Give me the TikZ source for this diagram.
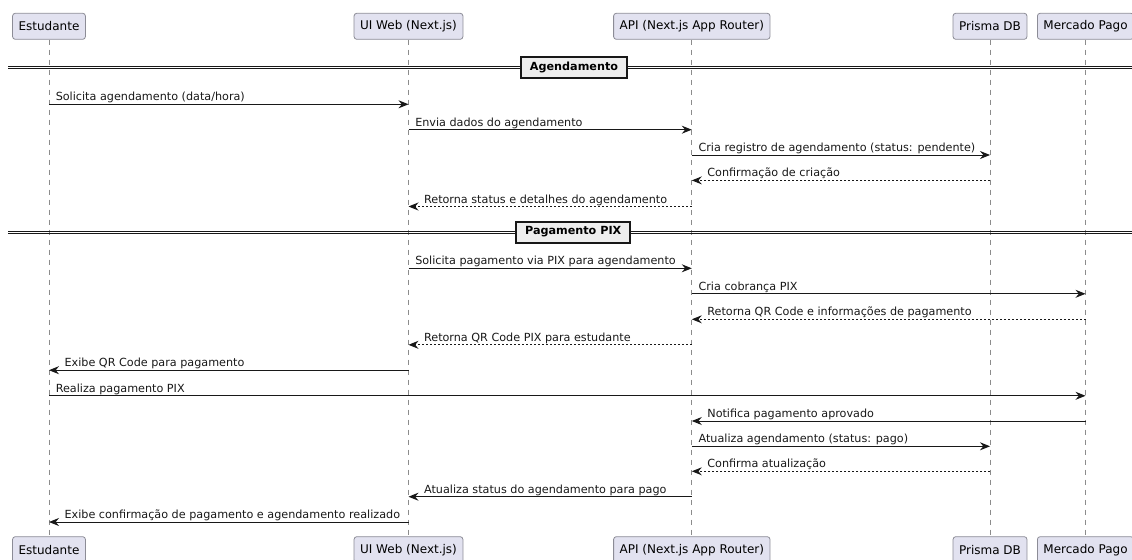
\documentclass[tikz,border=0pt]{standalone}
\usepackage{fontspec}
\setmainfont{DejaVu Sans}
\usetikzlibrary{arrows.meta}
\definecolor{partfill}{RGB}{226,226,240}
\definecolor{partdraw}{RGB}{140,140,150}
\definecolor{ink}{RGB}{24,24,24}
\definecolor{lifegray}{RGB}{140,140,140}
\definecolor{sepfill}{RGB}{238,238,238}
\begin{document}
\begin{tikzpicture}[x=0.75pt,y=-0.75pt,
 part/.style={draw=partdraw, fill=partfill, line width=0.6pt, rounded corners=2pt, font=\fontsize{9}{10}\selectfont, minimum height=19.5pt, inner xsep=4.5pt, inner ysep=0pt},
 life/.style={draw=lifegray, line width=0.5pt, dash pattern=on 3.75pt off 3.75pt},
 msg/.style={draw=ink, line width=0.75pt, -{Stealth[length=7.5pt,width=6pt,inset=2.5pt]}},
 ret/.style={msg, dash pattern=on 1.5pt off 1.5pt},
 lbl/.style={font=\fontsize{8.4}{10}\selectfont, inner sep=0pt, anchor=base west, text=ink, yshift=2.6pt},
 lblr/.style={lbl, pos=0, xshift=4.7pt},
 lbll/.style={lbl, pos=1, xshift=11.3pt},
 sepbox/.style={draw=ink, fill=sepfill, line width=1.4pt, font=\bfseries\fontsize{8.4}{10}\selectfont, minimum height=15.75pt, inner xsep=6.5pt, inner ysep=0pt},
 sepline/.style={draw=ink, line width=0.75pt}
]
\useasboundingbox (0,0) rectangle (1132,560);
\clip (0,0) rectangle (1132,560);

% participants
\node[part] (eT) at (49,26.3) {Estudante};
\node[part] (uT) at (408.5,26.3) {UI Web (Next.js)};
\node[part] (aT) at (691.8,26.3) {API (Next.js App Router)};
\node[part] (pT) at (990,26.3) {Prisma DB};
\node[part] (mT) at (1085.5,26.3) {Mercado Pago};
\node[part] (eB) at (49,549.7) {Estudante};
\node[part] (uB) at (408.5,549.7) {UI Web (Next.js)};
\node[part] (aB) at (691.8,549.7) {API (Next.js App Router)};
\node[part] (pB) at (990,549.7) {Prisma DB};
\node[part] (mB) at (1085.5,549.7) {Mercado Pago};

% lifelines
\draw[life] (eT.south) -- (eB.north);
\draw[life] (uT.south) -- (uB.north);
\draw[life] (aT.south) -- (aB.north);
\draw[life] (pT.south) -- (pB.north);
\draw[life] (mT.south) -- (mB.north);

% separators
\draw[sepline] (8,66.6) -- (1132,66.6);
\draw[sepline] (8,69) -- (1132,69);
\node[sepbox] (s1) at (574,67.8) {Agendamento};
\draw[sepline] (8,231) -- (1132,231);
\draw[sepline] (8,233.4) -- (1132,233.4);
\node[sepbox] (s2) at (573.2,232.1) {Pagamento PIX};

% rows
\coordinate (r1) at (0,104.3);
\coordinate (r2) at (0,129.7);
\coordinate (r3) at (0,155);
\coordinate (r4) at (0,180.4);
\coordinate (r5) at (0,206.5);
\coordinate (r6) at (0,268.3);
\coordinate (r7) at (0,293.8);
\coordinate (r8) at (0,319.3);
\coordinate (r9) at (0,344.8);
\coordinate (r10) at (0,370.2);
\coordinate (r11) at (0,395.8);
\coordinate (r12) at (0,421);
\coordinate (r13) at (0,446.3);
\coordinate (r14) at (0,471.3);
\coordinate (r15) at (0,496.7);
\coordinate (r16) at (0,522);

% messages
\draw[msg] (eT |- r1) -- (uT |- r1) node[lblr] {Solicita agendamento (data/hora)};
\draw[msg] (uT |- r2) -- (aT |- r2) node[lblr] {Envia dados do agendamento};
\draw[msg] (aT |- r3) -- (pT |- r3) node[lblr] {Cria registro de agendamento (status: pendente)};
\draw[ret] (pT |- r4) -- (aT |- r4) node[lbll] {Confirmação de criação};
\draw[ret] (aT |- r5) -- (uT |- r5) node[lbll] {Retorna status e detalhes do agendamento};
\draw[msg] (uT |- r6) -- (aT |- r6) node[lblr] {Solicita pagamento via PIX para agendamento};
\draw[msg] (aT |- r7) -- (mT |- r7) node[lblr] {Cria cobrança PIX};
\draw[ret] (mT |- r8) -- (aT |- r8) node[lbll] {Retorna QR Code e informações de pagamento};
\draw[ret] (aT |- r9) -- (uT |- r9) node[lbll] {Retorna QR Code PIX para estudante};
\draw[msg] (uT |- r10) -- (eT |- r10) node[lbll] {Exibe QR Code para pagamento};
\draw[msg] (eT |- r11) -- (mT |- r11) node[lblr] {Realiza pagamento PIX};
\draw[msg] (mT |- r12) -- (aT |- r12) node[lbll] {Notifica pagamento aprovado};
\draw[msg] (aT |- r13) -- (pT |- r13) node[lblr] {Atualiza agendamento (status: pago)};
\draw[ret] (pT |- r14) -- (aT |- r14) node[lbll] {Confirma atualização};
\draw[msg] (aT |- r15) -- (uT |- r15) node[lbll] {Atualiza status do agendamento para pago};
\draw[msg] (uT |- r16) -- (eT |- r16) node[lbll] {Exibe confirmação de pagamento e agendamento realizado};
\end{tikzpicture}
\end{document}
